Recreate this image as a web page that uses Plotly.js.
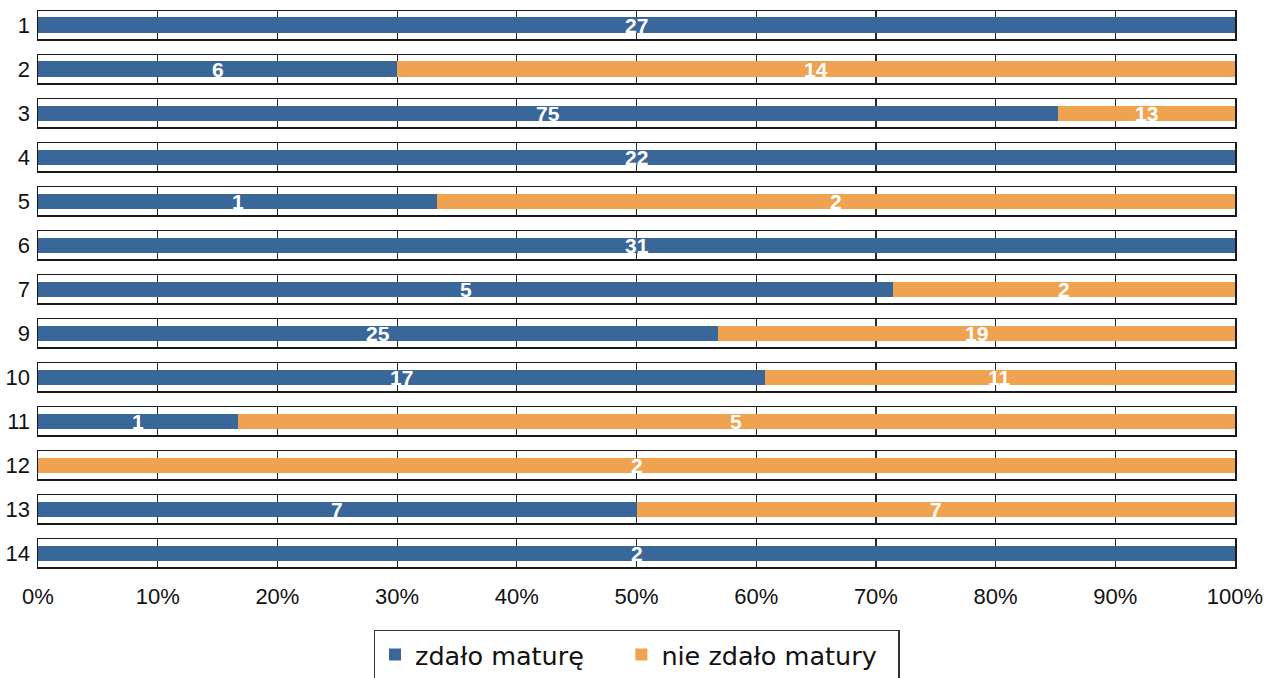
<!DOCTYPE html>
<html>
<head>
<meta charset="utf-8">
<script src="https://cdn.plot.ly/plotly-3.0.1.min.js"></script>
<style>html,body{margin:0;padding:0;background:#fff;}#chart{width:1268px;height:678px;}</style>
</head>
<body>
<div id="chart"></div>
<script>
const categories = ['1','2','3','4','5','6','7','9','10','11','12','13','14'];
const passed = [27, 6, 75, 22, 1, 31, 5, 25, 17, 1, 0, 7, 2];
const failed = [0, 14, 13, 0, 2, 0, 2, 19, 11, 5, 2, 7, 0];
const seriesNames = ['zdało maturę', 'nie zdało matury'];
const tickVals = [0,10,20,30,40,50,60,70,80,90,100];
const tickLabels = ['0%','10%','20%','30%','40%','50%','60%','70%','80%','90%','100%'];

const BLUE = '#3A6799';
const ORANGE = '#EFA350';
const FONT = 'Liberation Sans, Arial, sans-serif';

const totalH = 556;
const pitch = 44.03, boxH = 28;
const legendPads = ['\u00a0\u00a0\u00a0\u00a0', '\u00a0\u00a0'];

const traces = [];
const annotations = [];
const layout = {
  width: 1268, height: 678,
  margin: {l: 38, r: 33, t: 11, b: 111, pad: 0, autoexpand: false},
  paper_bgcolor: '#ffffff', plot_bgcolor: '#ffffff',
  barmode: 'stack', barnorm: 'percent', bargap: 0.46,
  font: {family: FONT, color: '#111', size: 22},
  showlegend: true,
  legend: {
    orientation: 'h', x: 0.5, xanchor: 'center', y: -0.1133, yanchor: 'top',
    bordercolor: '#333', borderwidth: 1.5, bgcolor: '#fff',
    font: {family: 'DejaVu Sans, sans-serif', size: 25.5, color: '#111'},
    traceorder: 'normal', itemwidth: 30
  },
  annotations: annotations
};

const n = categories.length;
for (let i = 0; i < n; i++) {
  const sfx = i === 0 ? '' : String(i + 1);
  const xa = 'x' + sfx, ya = 'y' + sfx;
  const top = 1 - (i * pitch) / totalH;
  const bot = top - boxH / totalH;
  const last = i === n - 1;
  layout['xaxis' + sfx] = {
    anchor: ya, range: [0, 100], fixedrange: true,
    tickvals: tickVals, ticktext: tickLabels,
    showticklabels: last, ticks: '', ticklabelstandoff: 9,
    tickfont: {family: FONT, size: 22, color: '#111'},
    showgrid: true, gridcolor: '#2a2a2a', gridwidth: 1.2,
    zeroline: false, showline: true, mirror: true,
    linecolor: '#1a1a1a', linewidth: 1.5
  };
  if (i > 0) layout['xaxis' + sfx].matches = 'x';
  layout['yaxis' + sfx] = {
    domain: [Math.max(0, bot), Math.min(1, top)], anchor: xa,
    type: 'category', fixedrange: true, range: [-0.5, 0.5],
    ticks: '', showgrid: false, zeroline: false,
    showline: true, mirror: true, linecolor: '#1a1a1a', linewidth: 1.5,
    tickfont: {family: FONT, size: 22, color: '#111'}, ticklabelstandoff: 2
  };
  const vals = [passed[i], failed[i]];
  const cols = [BLUE, ORANGE];
  const total = vals[0] + vals[1];
  let cum = 0;
  for (let s = 0; s < 2; s++) {
    traces.push({
      type: 'bar', orientation: 'h',
      x: [vals[s]], y: [categories[i]],
      xaxis: xa, yaxis: ya,
      name: seriesNames[s] + legendPads[s],
      legendgroup: 's' + s, showlegend: i === 0,
      marker: {color: cols[s], line: {width: 0}},
      hoverinfo: 'skip'
    });
    if (vals[s] > 0) {
      annotations.push({
        xref: xa, yref: ya,
        x: (cum + vals[s] / 2) / total * 100, y: 0,
        text: String(vals[s]), showarrow: false,
        xanchor: 'center', yanchor: 'middle',
        font: {family: FONT, size: 21, color: '#ffffff', weight: 'bold'}
      });
    }
    cum += vals[s];
  }
}

Plotly.newPlot('chart', traces, layout, {displayModeBar: false, staticPlot: true});
</script>
</body>
</html>
